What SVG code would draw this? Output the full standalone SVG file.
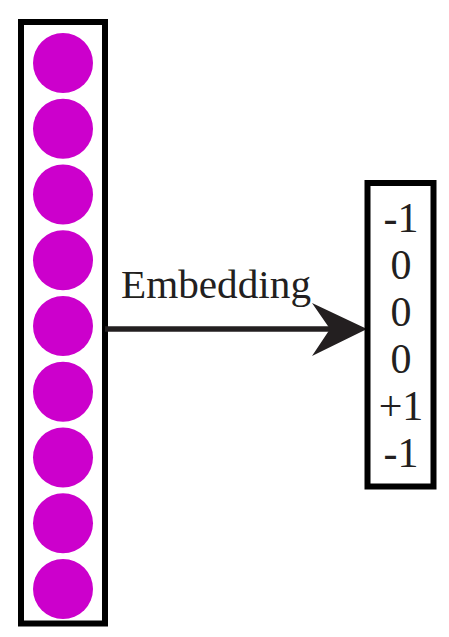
<svg xmlns="http://www.w3.org/2000/svg" width="449" height="637" viewBox="0 0 449 637">
<style>
.box{fill:none;stroke:#000;stroke-width:6}
.dot{fill:#CC00CC}
</style>
<rect width="449" height="637" fill="#fff"/>
<g id="input">
<rect class="box" x="21" y="22" width="84" height="601.5"/>
<circle class="dot" cx="63" cy="63" r="30"/>
<circle class="dot" cx="63" cy="128.75" r="30"/>
<circle class="dot" cx="63" cy="194.5" r="30"/>
<circle class="dot" cx="63" cy="260.25" r="30"/>
<circle class="dot" cx="63" cy="326" r="30"/>
<circle class="dot" cx="63" cy="391.75" r="30"/>
<circle class="dot" cx="63" cy="457.5" r="30"/>
<circle class="dot" cx="63" cy="523.25" r="30"/>
<circle class="dot" cx="63" cy="589" r="30"/>
</g>
<g id="connectors">
<line x1="105" y1="329" x2="335" y2="329" stroke="#231F20" stroke-width="5.5"/>
<polygon points="312,303 367,329 312,356 330,329" fill="#231F20"/>
</g>
<g id="labels" font-family="Liberation Serif, serif" font-size="40" fill="#231F20" text-anchor="middle">
<text x="216" y="298" textLength="190" lengthAdjust="spacingAndGlyphs">Embedding</text>
</g>
<g id="output" font-family="Liberation Serif, serif" font-size="42" fill="#231F20" text-anchor="middle">
<rect class="box" x="367.5" y="183" width="66" height="303.5"/>
<text x="401" y="232">-1</text>
<text x="401" y="279">0</text>
<text x="401" y="326">0</text>
<text x="401" y="373">0</text>
<text x="401" y="420">+1</text>
<text x="401" y="467">-1</text>
</g>
</svg>
